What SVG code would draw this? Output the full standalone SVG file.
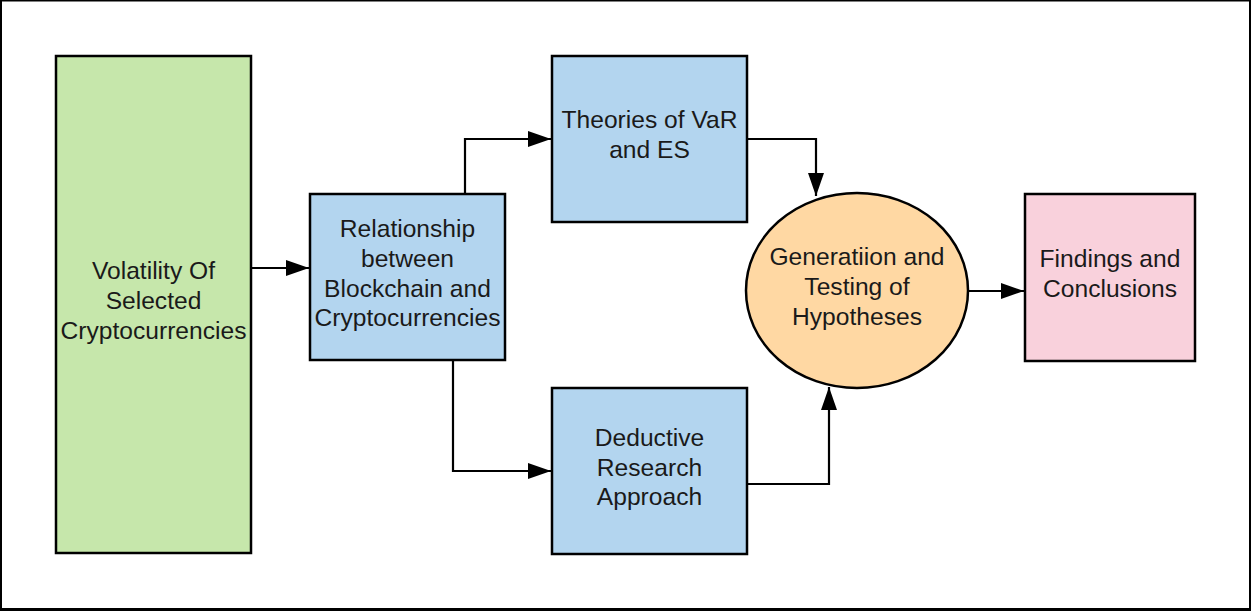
<svg xmlns="http://www.w3.org/2000/svg" width="1251" height="611" viewBox="0 0 1251 611">
  <style>
    .box { stroke: #000; stroke-width: 2.5; }
    .blue { fill: #b3d5ef; }
    .green { fill: #c6e7ab; }
    .orange { fill: #ffd8a3; }
    .pink { fill: #f9d1dc; }
    .lbl { font-family: "Liberation Sans", Arial, sans-serif; font-size: 24.6px; fill: #1a1a1a; text-anchor: middle; }
    .conn { fill: none; stroke: #000; stroke-width: 2.2; }
  </style>
  <defs>
    <marker id="arr" markerUnits="userSpaceOnUse" markerWidth="24" markerHeight="16" refX="23" refY="8" orient="auto">
      <path d="M0,0 L23,8 L0,16 z" fill="#000"/>
    </marker>
  </defs>
  <rect width="1251" height="611" fill="#fff"/>
  <g id="frame" fill="#000">
    <rect x="0" y="0" width="1251" height="1.5"/>
    <rect x="0" y="0" width="2" height="611"/>
    <rect x="1249" y="0" width="2" height="611"/>
    <rect x="0" y="608" width="1251" height="3"/>
  </g>
  <g id="connectors">
    <path class="conn" d="M251,268 L309,268" marker-end="url(#arr)"/>
    <path class="conn" d="M465,194 L465,139 L551,139" marker-end="url(#arr)"/>
    <path class="conn" d="M453,360 L453,471 L551,471" marker-end="url(#arr)"/>
    <path class="conn" d="M747,139 L816,139 L816,196" marker-end="url(#arr)"/>
    <path class="conn" d="M747,484 L829,484 L829,387" marker-end="url(#arr)"/>
    <path class="conn" d="M968,291 L1024,291" marker-end="url(#arr)"/>
  </g>
  <g id="volatility">
    <rect class="box green" x="56" y="56" width="195" height="497"/>
    <text class="lbl" x="153.5" y="279">Volatility Of</text>
    <text class="lbl" x="153.5" y="309">Selected</text>
    <text class="lbl" x="153.5" y="339">Cryptocurrencies</text>
  </g>
  <g id="relationship">
    <rect class="box blue" x="310" y="194" width="195" height="166"/>
    <text class="lbl" x="407.5" y="237">Relationship</text>
    <text class="lbl" x="407.5" y="267">between</text>
    <text class="lbl" x="407.5" y="297">Blockchain and</text>
    <text class="lbl" x="407.5" y="326">Cryptocurrencies</text>
  </g>
  <g id="theories">
    <rect class="box blue" x="552" y="56" width="195" height="166"/>
    <text class="lbl" x="649.5" y="128">Theories of VaR</text>
    <text class="lbl" x="649.5" y="158">and ES</text>
  </g>
  <g id="deductive">
    <rect class="box blue" x="552" y="388" width="195" height="166"/>
    <text class="lbl" x="649.5" y="446">Deductive</text>
    <text class="lbl" x="649.5" y="476">Research</text>
    <text class="lbl" x="649.5" y="505">Approach</text>
  </g>
  <g id="hypotheses">
    <ellipse class="box orange" cx="857" cy="290.5" rx="111" ry="97.5"/>
    <text class="lbl" x="857" y="265">Generatiion and</text>
    <text class="lbl" x="857" y="295">Testing of</text>
    <text class="lbl" x="857" y="325">Hypotheses</text>
  </g>
  <g id="findings">
    <rect class="box pink" x="1025" y="194" width="170" height="167"/>
    <text class="lbl" x="1110" y="267">Findings and</text>
    <text class="lbl" x="1110" y="297">Conclusions</text>
  </g>
</svg>
